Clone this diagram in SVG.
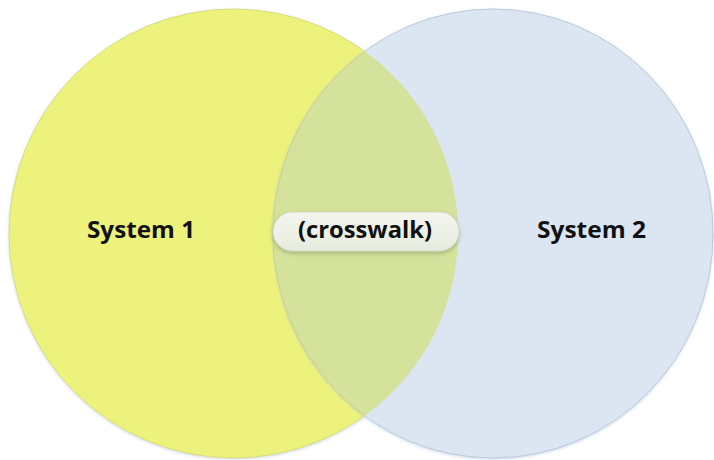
<svg xmlns="http://www.w3.org/2000/svg" width="714" height="460" viewBox="0 0 714 460">
<style>
.lbl{font-family:"Open Sans","Noto Sans","Liberation Sans",sans-serif;font-weight:bold;font-size:23px;fill:#111}
</style>
<defs>
<clipPath id="clipL"><ellipse cx="233.5" cy="233.5" rx="224.5" ry="224.5"/></clipPath>
<linearGradient id="pill" x1="0" y1="0" x2="0" y2="1">
<stop offset="0" stop-color="#F4F6EE"/>
<stop offset="1" stop-color="#E6EBDF"/>
</linearGradient>
<filter id="sh" x="-20%" y="-40%" width="140%" height="190%">
<feDropShadow dx="0" dy="2" stdDeviation="2" flood-color="#6a7a50" flood-opacity="0.45"/>
</filter>
<filter id="glow" x="-5%" y="-5%" width="110%" height="110%">
<feDropShadow dx="0" dy="1" stdDeviation="1.5" flood-color="#9FB6D6" flood-opacity="0.5"/>
</filter>
</defs>
<rect width="714" height="460" fill="#FFFFFF"/>
<g id="system1">
<ellipse cx="233.5" cy="233.5" rx="224.5" ry="224.5" fill="#EDF27B" stroke="#D9DD78" stroke-width="1" filter="url(#glow)"/>
</g>
<g id="system2">
<ellipse cx="493" cy="233.5" rx="220" ry="224.5" fill="#DBE6F2" stroke="#BBCADB" stroke-width="1" filter="url(#glow)"/>
<ellipse cx="493" cy="233.5" rx="220" ry="224.5" fill="#D4E29B" stroke="#C9D48E" stroke-width="1" clip-path="url(#clipL)"/>
</g>
<g id="crosswalk">
<rect x="273" y="212" width="186" height="39" rx="19.5" fill="url(#pill)" stroke="#D2D8C6" stroke-width="1" filter="url(#sh)"/>
<text class="lbl" x="365" y="238" text-anchor="middle" textLength="134" lengthAdjust="spacingAndGlyphs">(crosswalk)</text>
</g>
<g id="labels">
<text class="lbl" x="141" y="238" text-anchor="middle" textLength="108" lengthAdjust="spacingAndGlyphs">System 1</text>
<text class="lbl" x="591.5" y="238" text-anchor="middle" textLength="109" lengthAdjust="spacingAndGlyphs">System 2</text>
</g>
<g id="connectors"></g>
</svg>
